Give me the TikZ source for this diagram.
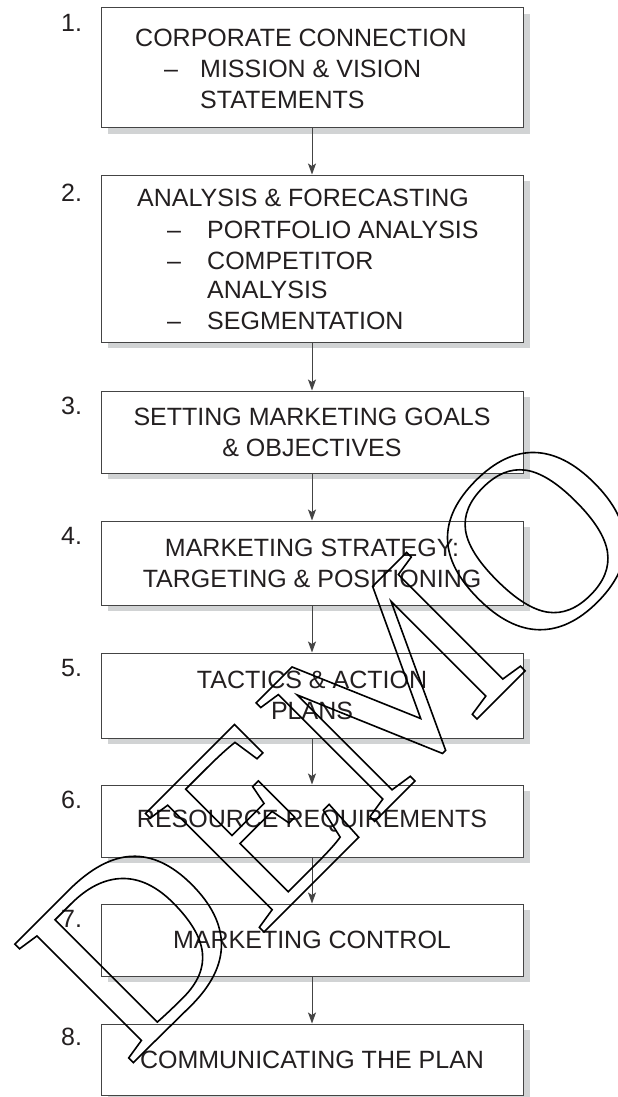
\documentclass[tikz,border=0pt]{standalone}
\usepackage{fontspec}
\setmainfont{Liberation Sans}
\newfontfamily\wmfont{Liberation Serif}
\usetikzlibrary{arrows.meta,shadows}
\definecolor{ink}{HTML}{231F20}
\definecolor{frame}{HTML}{444444}
\definecolor{shade}{HTML}{D1D3D4}
\newcommand\outlinetxt[1]{\special{pdf:literal direct 1 Tr 1.6 w}#1\special{pdf:literal direct 0 Tr}}
\tikzset{
  stepbox/.style={draw=frame, line width=1pt, fill=white, minimum width=422pt,
    inner sep=0pt, align=center, text=ink,
    drop shadow={shadow xshift=7pt, shadow yshift=-6pt, fill=shade, opacity=1}},
  lbl/.style={anchor=base west, inner sep=0pt, text=ink},
  arr/.style={draw=frame, line width=0.9pt, -{Stealth[length=11pt,width=8pt,inset=2.5pt]}},
}
\begin{document}
\begin{tikzpicture}[x=1pt,y=-1pt,font=\fontsize{25}{31}\selectfont]
\useasboundingbox (0,0) rectangle (618,1097);
% boxes
\node[stepbox, minimum height=120pt] (b1) at (312,68) {};
\node[stepbox, minimum height=167pt] (b2) at (312,258.5) {};
\node[stepbox, minimum height=82pt] (b3) at (312,432) {SETTING MARKETING GOALS\\\& OBJECTIVES};
\node[stepbox, minimum height=84pt] (b4) at (312,563) {MARKETING STRATEGY:\\TARGETING \& POSITIONING};
\node[stepbox, minimum height=85pt] (b5) at (312,695.5) {TACTICS \& ACTION\\PLANS};
\node[stepbox, minimum height=72pt] (b6) at (312,821) {RESOURCE REQUIREMENTS};
\node[stepbox, minimum height=72pt] (b7) at (312,940) {MARKETING CONTROL};
\node[stepbox, minimum height=71pt] (b8) at (312,1059.5) {COMMUNICATING THE PLAN};
% box 1 text
\node[lbl] (t1a) at (135,47) {CORPORATE CONNECTION};
\node[lbl] (t1d) at (164,78) {–};
\node[lbl] (t1b) at (200,78) {MISSION \& VISION};
\node[lbl] (t1c) at (200,109) {STATEMENTS};
% box 2 text
\node[lbl] (t2a) at (137,206) {ANALYSIS \& FORECASTING};
\node[lbl] (t2d1) at (167,238) {–};
\node[lbl] (t2b) at (207,238) {PORTFOLIO ANALYSIS};
\node[lbl] (t2d2) at (167,269) {–};
\node[lbl] (t2c) at (207,269) {COMPETITOR};
\node[lbl] (t2e) at (207,298) {ANALYSIS};
\node[lbl] (t2d3) at (167,329) {–};
\node[lbl] (t2f) at (207,329) {SEGMENTATION};
% numbers
\node[lbl] (n1) at (61,32) {1.};
\node[lbl] (n2) at (61,201) {2.};
\node[lbl] (n3) at (61,414) {3.};
\node[lbl] (n4) at (61,544) {4.};
\node[lbl] (n5) at (61,676) {5.};
\node[lbl] (n6) at (61,808) {6.};
\node[lbl] (n7) at (61,927) {7.};
\node[lbl] (n8) at (61,1045) {8.};
% connectors
\draw[arr] (b1.south) -- (b2.north);
\draw[arr] (b2.south) -- (b3.north);
\draw[arr] (b3.south) -- (b4.north);
\draw[arr] (b4.south) -- (b5.north);
\draw[arr] (b5.south) -- (b6.north);
\draw[arr] (b6.south) -- (b7.north);
\draw[arr] (b7.south) -- (b8.north);
% watermark
\node[rotate=45, anchor=base west, inner sep=0pt, font=\wmfont\fontsize{256}{256}\selectfont] (wm) at (128,1068) {\outlinetxt{DEMO}};
\end{tikzpicture}
\end{document}
